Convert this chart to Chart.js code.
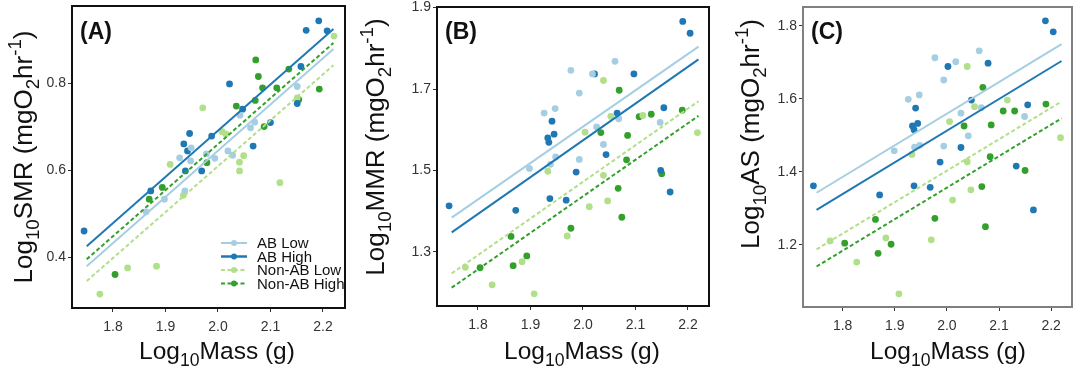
<!DOCTYPE html>
<html>
<head>
<meta charset="utf-8">
<script src="https://cdn.jsdelivr.net/npm/chart.js@4.4.0/dist/chart.umd.min.js"></script>
<style>
  body { margin: 0; background: #fff; width: 1076px; height: 371px; overflow: hidden; position: relative; }
  .panel { position: absolute; top: 0; height: 371px; }
</style>
</head>
<body>
<div class="panel" style="left:0;width:358px"><canvas id="chartA" width="358" height="371"></canvas></div>
<div class="panel" style="left:358px;width:358px"><canvas id="chartB" width="358" height="371"></canvas></div>
<div class="panel" style="left:716px;width:360px"><canvas id="chartC" width="360" height="371"></canvas></div>
<script>
// grupos y ticks
const groupNames = ['AB Low', 'AB High', 'Non-AB Low', 'Non-AB High'];
const massTicks = [1.8, 1.9, 2.0, 2.1, 2.2];
const smrTicks = [0.4, 0.6, 0.8];
const mmrTicks = [1.3, 1.5, 1.7, 1.9];
const asTicks = [1.2, 1.4, 1.6, 1.8];
const fitMass = [1.75, 2.22]; // extremos de las rectas

// (A) SMR
const smrMassAbLow = [1.863, 1.898, 1.927, 1.937, 1.948, 1.949, 1.978, 1.994, 2.019, 2.028, 2.042, 2.062, 2.070, 2.151];
const smrAbLow     = [0.504, 0.533, 0.628, 0.552, 0.621, 0.651, 0.637, 0.627, 0.644, 0.634, 0.726, 0.697, 0.710, 0.792];
const smrMassAbHigh = [1.745, 1.872, 1.935, 1.938, 1.942, 1.946, 1.969, 1.988, 2.022, 2.047, 2.067, 2.100, 2.151, 2.158, 2.168, 2.192, 2.208];
const smrAbHigh     = [0.460, 0.552, 0.660, 0.598, 0.644, 0.684, 0.598, 0.678, 0.798, 0.740, 0.655, 0.709, 0.753, 0.838, 0.921, 0.943, 0.920];
const smrMassNonLow = [1.775, 1.828, 1.883, 1.909, 1.934, 1.971, 2.008, 2.015, 2.041, 2.041, 2.049, 2.118, 2.151, 2.221];
const smrNonLow     = [0.315, 0.375, 0.379, 0.613, 0.542, 0.743, 0.688, 0.683, 0.618, 0.598, 0.633, 0.571, 0.766, 0.908];
const smrMassNonHigh = [1.804, 1.869, 1.894, 1.979, 2.035, 2.071, 2.072, 2.077, 2.085, 2.088, 2.112, 2.135, 2.154, 2.193];
const smrNonHigh     = [0.360, 0.533, 0.560, 0.617, 0.747, 0.760, 0.853, 0.815, 0.789, 0.700, 0.789, 0.832, 0.762, 0.786];
const smrFitAbLow = [0.379, 0.878];
const smrFitAbHigh = [0.425, 0.924];
const smrFitNonLow = [0.345, 0.841];
const smrFitNonHigh = [0.395, 0.892];

// (B) MMR
const mmrMassAbLow = [1.898, 1.926, 1.938, 1.947, 1.948, 1.977, 1.993, 1.993, 2.018, 2.026, 2.039, 2.061, 2.068, 2.147];
const mmrAbLow     = [1.505, 1.641, 1.515, 1.652, 1.533, 1.746, 1.690, 1.527, 1.737, 1.607, 1.564, 1.768, 1.627, 1.618];
const mmrMassAbHigh = [1.745, 1.872, 1.933, 1.935, 1.937, 1.941, 1.945, 1.968, 1.987, 2.022, 2.044, 2.065, 2.097, 2.148, 2.154, 2.166, 2.190, 2.204];
const mmrAbHigh     = [1.413, 1.402, 1.580, 1.569, 1.431, 1.621, 1.589, 1.427, 1.496, 1.737, 1.539, 1.641, 1.737, 1.500, 1.654, 1.447, 1.866, 1.837];
const mmrMassNonLow = [1.776, 1.827, 1.884, 1.907, 1.933, 1.970, 2.004, 2.012, 2.039, 2.039, 2.047, 2.053, 2.114, 2.218];
const mmrNonLow     = [1.262, 1.219, 1.276, 1.197, 1.498, 1.339, 1.594, 1.411, 1.721, 1.488, 1.425, 1.633, 1.635, 1.593];
const mmrMassNonHigh = [1.804, 1.863, 1.867, 1.893, 1.977, 2.034, 2.067, 2.069, 2.074, 2.083, 2.085, 2.107, 2.130, 2.150, 2.189];
const mmrNonHigh     = [1.261, 1.338, 1.266, 1.290, 1.358, 1.593, 1.456, 1.697, 1.385, 1.526, 1.586, 1.632, 1.638, 1.492, 1.648];
const mmrFitAbLow = [1.384, 1.804];
const mmrFitAbHigh = [1.348, 1.773];
const mmrFitNonLow = [1.247, 1.670];
const mmrFitNonHigh = [1.212, 1.634];

// (C) AS
const asMassAbLow = [1.899, 1.926, 1.938, 1.947, 1.948, 1.977, 1.994, 1.994, 2.017, 2.027, 2.041, 2.062, 2.066, 2.149];
const asAbLow     = [1.458, 1.599, 1.468, 1.611, 1.473, 1.713, 1.652, 1.471, 1.702, 1.561, 1.499, 1.732, 1.576, 1.552];
const asMassAbHigh = [1.744, 1.871, 1.934, 1.937, 1.937, 1.940, 1.944, 1.968, 1.987, 2.002, 2.027, 2.047, 2.079, 2.133, 2.155, 2.166, 2.189, 2.204];
const asAbHigh     = [1.362, 1.337, 1.526, 1.516, 1.362, 1.575, 1.533, 1.358, 1.427, 1.689, 1.467, 1.597, 1.698, 1.416, 1.584, 1.296, 1.814, 1.784];
const asMassNonLow = [1.776, 1.827, 1.883, 1.908, 1.933, 1.970, 2.005, 2.011, 2.039, 2.039, 2.046, 2.053, 2.116, 2.218];
const asNonLow     = [1.211, 1.153, 1.219, 1.066, 1.448, 1.214, 1.538, 1.323, 1.689, 1.428, 1.351, 1.579, 1.597, 1.494];
const asMassNonHigh = [1.804, 1.863, 1.868, 1.893, 1.977, 2.033, 2.067, 2.069, 2.074, 2.083, 2.085, 2.108, 2.130, 2.150, 2.190];
const asNonHigh     = [1.205, 1.270, 1.177, 1.202, 1.273, 1.526, 1.360, 1.632, 1.250, 1.442, 1.529, 1.567, 1.567, 1.404, 1.586];
const asFitAbLow = [1.343, 1.750];
const asFitAbHigh = [1.296, 1.704];
const asFitNonLow = [1.188, 1.593];
const asFitNonHigh = [1.141, 1.547];

// estilos de cada grupo
const groupColors = ['#a6cee3', '#1f78b4', '#b2df8a', '#33a02c'];
const groupDash = [[], [], [4, 2.5], [4, 2.5]];
const FONT = "'Liberation Sans', Arial, sans-serif";
const H = 371;

// dibuja texto con subindices/superindices; parts = [[texto, -1 sub | 0 | 1 sup], ...]
function drawRich(ctx, parts, cx, baseY, size, rotated) {
  const small = size * 0.72;
  let w = 0;
  parts.forEach(([t, s]) => {
    ctx.font = (s ? small : size) + 'px ' + FONT;
    w += ctx.measureText(t).width;
  });
  ctx.save();
  if (rotated) {
    ctx.translate(baseY, cx);
    ctx.rotate(-Math.PI / 2);
  } else {
    ctx.translate(cx, baseY);
  }
  ctx.fillStyle = '#111';
  ctx.textBaseline = 'alphabetic';
  ctx.textAlign = 'left';
  let x = -w / 2;
  parts.forEach(([t, s]) => {
    ctx.font = (s ? small : size) + 'px ' + FONT;
    const dy = s === -1 ? size * 0.28 : (s === 1 ? -size * 0.42 : 0);
    ctx.fillText(t, x, dy);
    x += ctx.measureText(t).width;
  });
  ctx.restore();
}

function yTitle(name) {
  return [['Log', 0], ['10', -1], [name + ' (mgO', 0], ['2', -1], ['hr', 0], ['-1', 1], [')', 0]];
}
const xTitle = [['Log', 0], ['10', -1], ['Mass (g)', 0]];

const panels = [
  { id: 'chartA', w: 358, l: 72, r: 345, t: 6, b: 308, xMin: 1.722, xMax: 2.242, yMin: 0.283, yMax: 0.977,
    yTicks: smrTicks, frame: '#111', label: '(A)', yName: 'SMR', yTx: 32, yTy: 157, xTx: 217, legend: true,
    mass: [smrMassAbLow, smrMassAbHigh, smrMassNonLow, smrMassNonHigh],
    vals: [smrAbLow, smrAbHigh, smrNonLow, smrNonHigh],
    fits: [smrFitAbLow, smrFitAbHigh, smrFitNonLow, smrFitNonHigh] },
  { id: 'chartB', w: 358, l: 79, r: 351, t: 7, b: 306, xMin: 1.722, xMax: 2.240, yMin: 1.167, yMax: 1.9015,
    yTicks: mmrTicks, frame: '#111', label: '(B)', yName: 'MMR', yTx: 26, yTy: 147, xTx: 224, legend: false,
    mass: [mmrMassAbLow, mmrMassAbHigh, mmrMassNonLow, mmrMassNonHigh],
    vals: [mmrAbLow, mmrAbHigh, mmrNonLow, mmrNonHigh],
    fits: [mmrFitAbLow, mmrFitAbHigh, mmrFitNonLow, mmrFitNonHigh] },
  { id: 'chartC', w: 360, l: 87, r: 358, t: 7, b: 307, xMin: 1.724, xMax: 2.240, yMin: 1.030, yMax: 1.852,
    yTicks: asTicks, frame: '#808080', label: '(C)', yName: 'AS', yTx: 43, yTy: 134, xTx: 232, legend: false,
    mass: [asMassAbLow, asMassAbHigh, asMassNonLow, asMassNonHigh],
    vals: [asAbLow, asAbHigh, asNonLow, asNonHigh],
    fits: [asFitAbLow, asFitAbHigh, asFitNonLow, asFitNonHigh] }
];

// marco, titulos, etiqueta del panel y leyenda
function decorPlugin(p) {
  return {
    id: 'decor',
    afterDraw(chart) {
      const ctx = chart.ctx;
      const a = chart.chartArea;
      ctx.save();
      ctx.strokeStyle = p.frame;
      ctx.lineWidth = 2;
      ctx.strokeRect(a.left, a.top, a.right - a.left, a.bottom - a.top);
      ctx.fillStyle = '#111';
      ctx.font = 'bold 23px ' + FONT;
      ctx.textBaseline = 'alphabetic';
      ctx.fillText(p.label, a.left + 8, 38.5);
      ctx.restore();

      drawRich(ctx, yTitle(p.yName), p.yTy, p.yTx, 26, true);
      drawRich(ctx, xTitle, p.xTx, 359, 24.5, false);

      if (p.legend) {
        ctx.save();
        groupNames.forEach((name, i) => {
          const y = 243 + i * 13.5;
          ctx.strokeStyle = groupColors[i];
          ctx.lineWidth = i === 1 ? 2.5 : 2;
          ctx.setLineDash(groupDash[i]);
          ctx.beginPath();
          ctx.moveTo(221, y);
          ctx.lineTo(247, y);
          ctx.stroke();
          ctx.setLineDash([]);
          ctx.fillStyle = groupColors[i];
          ctx.beginPath();
          ctx.arc(234, y, 3, 0, Math.PI * 2);
          ctx.fill();
          ctx.fillStyle = '#111';
          ctx.font = '15px ' + FONT;
          ctx.textBaseline = 'middle';
          ctx.fillText(name, 257, y + 1);
        });
        ctx.restore();
      }
    }
  };
}

function axisOpts(ticksArr, min, max, pad) {
  return {
    type: 'linear',
    min: min,
    max: max,
    afterBuildTicks: (s) => { s.ticks = ticksArr.map(v => ({ value: v })); },
    grid: { drawOnChartArea: false, drawTicks: true, tickLength: 4, color: '#333', lineWidth: 1 },
    border: { display: false },
    ticks: {
      color: '#333',
      font: { size: 14, family: FONT },
      padding: pad,
      autoSkip: false,
      maxRotation: 0,
      callback: (v) => Number(v).toFixed(1)
    }
  };
}

panels.forEach((p) => {
  const datasets = [];
  groupNames.forEach((name, i) => {
    datasets.push({
      label: name,
      type: 'scatter',
      data: p.mass[i].map((m, k) => ({ x: m, y: p.vals[i][k] })),
      backgroundColor: groupColors[i],
      borderWidth: 0,
      pointRadius: 3.4,
      order: 1
    });
    datasets.push({
      label: name + ' fit',
      type: 'line',
      data: fitMass.map((m, k) => ({ x: m, y: p.fits[i][k] })),
      borderColor: groupColors[i],
      borderWidth: 2,
      borderDash: groupDash[i],
      pointRadius: 0,
      fill: false,
      order: 0
    });
  });

  const xAxis = axisOpts(massTicks, p.xMin, p.xMax, 7);
  xAxis.afterFit = (s) => { s.height = H - p.b; s.paddingLeft = 0; s.paddingRight = 0; };
  const yAxis = axisOpts(p.yTicks, p.yMin, p.yMax, 2);
  yAxis.afterFit = (s) => { s.width = p.l; s.paddingTop = 0; s.paddingBottom = 0; };

  new Chart(document.getElementById(p.id).getContext('2d'), {
    type: 'scatter',
    data: { datasets: datasets },
    options: {
      responsive: false,
      animation: false,
      devicePixelRatio: 1,
      layout: { padding: { top: p.t, right: p.w - p.r, left: 0, bottom: 0 } },
      plugins: { legend: { display: false }, tooltip: { enabled: false } },
      scales: { x: xAxis, y: yAxis }
    },
    plugins: [decorPlugin(p)]
  });
});
</script>
</body>
</html>
